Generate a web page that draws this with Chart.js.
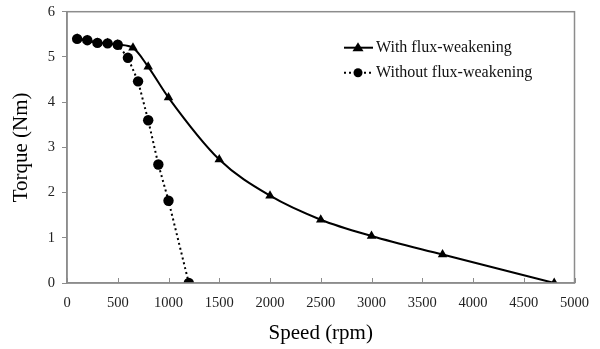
<!DOCTYPE html>
<html><head><meta charset="utf-8">
<script src="https://cdn.jsdelivr.net/npm/chart.js@4/dist/chart.umd.min.js"></script>
<style>html,body{margin:0;padding:0;background:#fff;overflow:hidden}#wrap{width:600px;height:349px;overflow:hidden}#c{display:block;margin-top:-4px}</style>
</head><body><div id="wrap"><canvas id="c" width="600" height="353"></canvas></div>
<script>
const speedWith = [100,200,300,400,500,650,800,1000,1500,2000,2500,3000,3700,4800];
const torqueWith = [5.4,5.37,5.31,5.3,5.27,5.2,4.78,4.1,2.73,1.93,1.4,1.04,0.63,0];
const speedWithout = [100,200,300,400,500,600,700,800,900,1000,1200];
const torqueWithout = [5.4,5.37,5.31,5.3,5.27,4.98,4.46,3.6,2.62,1.82,0];
const seriesLabels = ["With flux-weakening","Without flux-weakening"];
const xTitle = "Speed (rpm)", yTitle = "Torque (Nm)";

const FONT = "'Liberation Serif', 'DejaVu Serif', serif";
const AXIS = '#8c8c8c';

const boxPlugin = {
  id:'box',
  afterDraw(chart){
    const {ctx, chartArea:a, scales} = chart;
    ctx.save();
    ctx.strokeStyle = AXIS; ctx.lineWidth = 1.5;
    ctx.strokeRect(a.left, a.top, a.right-a.left, a.bottom-a.top);
    ctx.lineWidth = 1;
    scales.x.ticks.forEach(t=>{
      const px = Math.round(scales.x.getPixelForValue(t.value))+0.5;
      ctx.beginPath(); ctx.moveTo(px, a.bottom); ctx.lineTo(px, a.bottom-5); ctx.stroke();
    });
    const rows = [a.top + 36, a.top + 61];
    ctx.font = "16px " + FONT;
    ctx.textBaseline = 'middle';
    seriesLabels.forEach((lab,i)=>{
      const d = chart.data.datasets.find(ds=>ds.label===lab);
      const y = rows[i];
      ctx.strokeStyle = '#000'; ctx.lineWidth = 2;
      ctx.setLineDash(d.borderDash || []);
      ctx.beginPath(); ctx.moveTo(344, y); ctx.lineTo(373, y); ctx.stroke();
      ctx.setLineDash([]);
      ctx.fillStyle = '#000';
      ctx.beginPath();
      if (d.pointStyle === 'triangle') {
        ctx.moveTo(358, y-5.5); ctx.lineTo(363.5, y+3.5); ctx.lineTo(352.5, y+3.5); ctx.closePath();
      } else {
        ctx.arc(358, y, 4.5, 0, Math.PI*2);
      }
      ctx.fill();
      ctx.fillStyle = '#111';
      ctx.fillText(lab, 376, y);
    });
    ctx.restore();
  }
};

new Chart(document.getElementById('c'), {
  type:'line',
  data:{
    datasets:[
      {label:seriesLabels[1], data:speedWithout.map((s,i)=>({x:s,y:torqueWithout[i]})),
       borderColor:'#000', backgroundColor:'#000', borderWidth:2, borderDash:[2,3],
       pointStyle:'circle', pointRadius:5.2, pointBackgroundColor:'#000', pointBorderWidth:0, tension:0, order:0},
      {label:seriesLabels[0], data:speedWith.map((s,i)=>({x:s,y:torqueWith[i]})),
       borderColor:'#000', backgroundColor:'#000', borderWidth:2,
       pointStyle:'triangle', pointRadius:5.5, pointBackgroundColor:'#000', pointBorderWidth:0,
       cubicInterpolationMode:'monotone', order:1}
    ]
  },
  options:{
    responsive:false, animation:false, devicePixelRatio:1,
    layout:{padding:{left:0,right:25,top:0,bottom:0}},
    plugins:{legend:{display:false}, tooltip:{enabled:false}},
    scales:{
      x:{type:'linear', min:0, max:5000,
        ticks:{stepSize:500, color:'#222', font:{family:FONT,size:14.5}, padding:11, maxRotation:0, autoSkip:false,
               callback:v=>String(v)},
        grid:{display:true, drawOnChartArea:false, drawTicks:false, color:AXIS},
        border:{color:AXIS, width:1.5},
        title:{display:true, text:xTitle, color:'#000', font:{family:FONT,size:21}, padding:{top:4,bottom:3}},
        afterFit(s){ s.height = 66; }
      },
      y:{min:0, max:6,
        ticks:{stepSize:1, color:'#222', font:{family:FONT,size:14.5}, padding:7, callback:v=>String(v)},
        grid:{display:true, drawOnChartArea:false, drawTicks:true, tickLength:5, color:AXIS},
        border:{color:AXIS, width:1.5},
        title:{display:true, text:yTitle, color:'#000', font:{family:FONT,size:21}, padding:{top:9,bottom:4}},
        afterFit(s){ s.width = 67; }
      }
    }
  },
  plugins:[boxPlugin]
});
</script></body></html>
